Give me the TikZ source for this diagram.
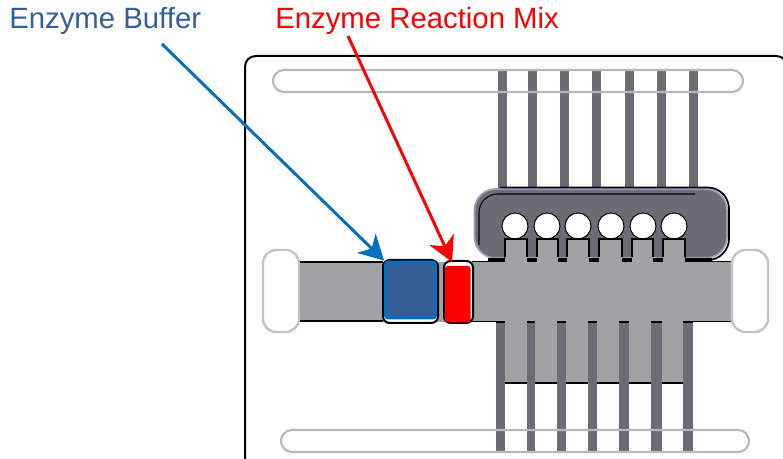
\documentclass[tikz,border=0pt]{standalone}
\usepackage{fontspec}
\setmainfont{Liberation Sans}
\usetikzlibrary{arrows.meta}
\definecolor{bandgray}{HTML}{A2A1A6}
\definecolor{stripgray}{HTML}{6C6C76}
\definecolor{slotgray}{HTML}{B4B8BA}
\definecolor{padgray}{HTML}{C4C4C4}
\definecolor{rimblue}{HTML}{9C9CB8}
\definecolor{enzblue}{HTML}{355F96}
\definecolor{arrowblue}{HTML}{0070C0}
\tikzset{
  slotbox/.style={draw=slotgray,line width=1.6pt,rounded corners=8.25pt},
  padbox/.style={draw=padgray,fill=white,line width=1.8pt,rounded corners=10pt},
  strip/.style={fill=stripgray},
  tabbox/.style={fill=bandgray},
  hole/.style={circle,draw=black,fill=white,line width=.8pt,minimum size=19.5pt,inner sep=0pt},
  tagtext/.style={font=\fontsize{22}{26}\selectfont,inner sep=0pt,anchor=base west},
  arrowline/.style={-{Stealth[length=18.5pt,width=20pt,inset=5.5pt]},line width=2.2pt}
}
\begin{document}
\begin{tikzpicture}[x=0.75pt,y=-0.75pt]
    \useasboundingbox (0,0) rectangle (783,459);
    % Board
    \draw[line width=1.5pt,rounded corners=8pt] (245,470) -- (245,56) -- (787,56) -- (787,470);

    % Upper strips
    \foreach \xa in {498,528,560,592,625,657,689}
      \fill[strip] (\xa,71) rectangle (\xa+8.5,200);

    % Cartridge
    \draw[fill=stripgray,draw=rimblue,line width=1.3pt,rounded corners=16pt] (474.5,189) rectangle (727,258);
    \draw[line width=1.3pt,rounded corners=16pt] (500,187.5) -- (729,187.5) -- (729,260) -- (690,260);
    \draw[line width=.8pt,rounded corners=14pt] (479,245) -- (479,194) -- (695,194);
    \foreach \xc [count=\ic] in {515,547,578,611,643,674}
      \node[hole] (hole\ic) at (\xc,226) {};
    \fill (488,258.5) rectangle (712,262);
    \foreach \xd/\xe in {505/527,537/558,567/589,599/622,632/653,663/685} {
      \fill[tabbox] (\xd,239) rectangle (\xe,264);
      \draw[line width=.9pt] (\xd,258) -- (\xd,239) -- (\xe,239) -- (\xe,258);
    }
    \draw[rimblue,line width=.7pt] (505,257) -- (685,257);

    % Band
    \fill[bandgray] (299,262) rectangle (732,322);
    \fill[bandgray] (505,320) rectangle (683,383);
    \draw[line width=.8pt] (505,383) -- (683,383);
    \draw[line width=1.2pt] (299,262) -- (383,262);
    \draw[line width=1.2pt] (299,321) -- (383,321);
    \draw[line width=1pt] (472,261.5) -- (505,261.5);
    \draw[line width=1pt] (685,261.5) -- (732,261.5);
    \draw[line width=1pt] (472,321.5) -- (496,321.5);
    \draw[line width=1pt] (693,321.5) -- (732,321.5);

    % Lower strips
    \foreach \xb/\wb in {496/9,527/8,557/9,588/9,619/10,651/11,683/10} {
      \fill[strip] (\xb,322) rectangle (\xb+\wb,452);
      \draw[line width=1pt] (\xb,322) -- (\xb+\wb,322);
    }

    % Slots
    \draw[slotbox] (273,70) rectangle (743,92);
    \draw[slotbox] (281,430) rectangle (749,452);

    % Pads
    \draw[padbox] (263,250) rectangle (299,332);
    \draw[padbox] (732,250) rectangle (768,332);

    % Enzyme spots
    \draw[fill=white,line width=1.5pt,rounded corners=5pt] (383,260) rectangle (438,323);
    \node[draw=arrowblue,fill=enzblue,line width=2.2pt,inner sep=0pt,rounded corners=2pt,
      minimum width=37.5pt,minimum height=42pt] (bluepad) at (410.5,290) {};
    \draw[fill=white,line width=1.5pt,rounded corners=5pt] (444,261) rectangle (473,323);
    \fill[red,rounded corners=2pt] (445,266) rectangle (470.5,322.5);
    \coordinate (redtip) at (452,262);

    % Labels
    \node[tagtext,text=enzblue] (bufferlabel) at (9,29) {Enzyme Buffer};
    \node[tagtext,text=red] (mixlabel) at (275,29) {Enzyme Reaction Mix};
    \coordinate (bufferstart) at (162,44);
    \coordinate (mixstart) at (348,36);

    % Arrows
    \draw[arrowline,arrowblue] (bufferstart) -- (bluepad.north west);
    \draw[arrowline,red] (mixstart) -- (redtip);
\end{tikzpicture}
\end{document}
